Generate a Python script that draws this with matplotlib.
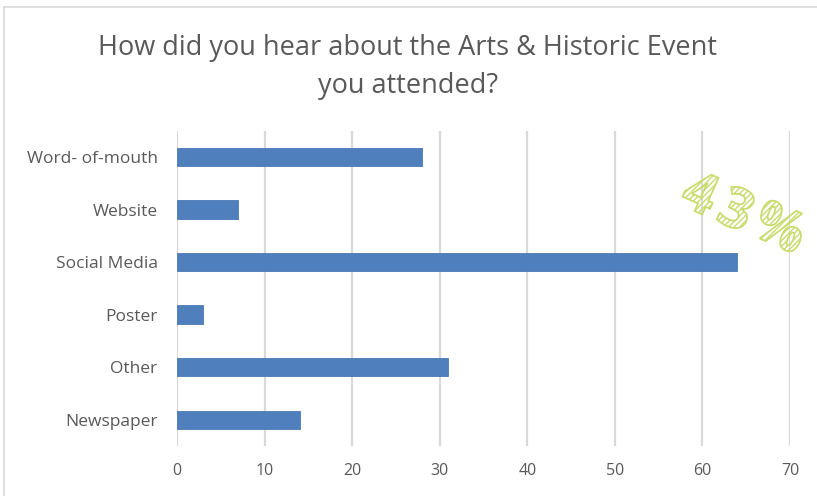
import matplotlib
matplotlib.use("Agg")
import matplotlib.pyplot as plt
from matplotlib.textpath import TextPath
from matplotlib.patches import PathPatch
from matplotlib.font_manager import FontProperties
from matplotlib.transforms import Affine2D, IdentityTransform
from matplotlib.lines import Line2D

categories = ["Newspaper", "Other", "Poster", "Social Media", "Website", "Word- of-mouth"]
values = [14, 31, 3, 64, 7, 28]
xticks = [0, 10, 20, 30, 40, 50, 60, 70]
title = "How did you hear about the Arts & Historic Event\nyou attended?"
stamp_chars = ["4", "3", "%"]

plt.rcParams["hatch.color"] = "#c9dc6e"
plt.rcParams["hatch.linewidth"] = 1.0

W, H = 817, 496
fig = plt.figure(figsize=(W / 100, H / 100), dpi=100)
fig.patch.set_facecolor("white")

ax = fig.add_axes([177 / W, 1 - 446 / H, (790 - 177) / W, (446 - 130.7) / H])
ax.barh(range(len(categories)), values, height=0.35, color="#4f7fbd", edgecolor="#4a78b5", linewidth=0.6, zorder=3)
ax.set_xlim(0, 70)
ax.set_ylim(-0.5, len(categories) - 0.5)
ax.set_xticks(xticks)
ax.set_yticks(range(len(categories)))
ax.set_yticklabels(categories)
ax.grid(axis="x", color="#d9d9d9", linewidth=1.6, zorder=0)
for s in ax.spines.values():
    s.set_visible(False)
ax.tick_params(axis="both", length=0, colors="#595959")
ax.tick_params(axis="x", pad=12, labelsize=11.5)
ax.tick_params(axis="y", pad=14, labelsize=12.5)
for lab in ax.get_xticklabels() + ax.get_yticklabels():
    lab.set_fontfamily("Open Sans")
    lab.set_color("#595959")

fig.text(408 / W, 1 - 67 / H, title, ha="center", va="center", fontsize=19.5,
         color="#595959", family="Open Sans", linespacing=1.45)

# frame lines (top and left)
fig.add_artist(Line2D([4 / W, 1], [1 - 7 / H, 1 - 7 / H], color="#d9d9d9", linewidth=1.2))
fig.add_artist(Line2D([4 / W, 4 / W], [0, 1 - 7 / H], color="#d9d9d9", linewidth=1.2))

# decorative hatched "43%"
fp = FontProperties(family="Open Sans", weight="bold")
centers = [(701, 192), (737, 208), (781, 226)]
for ch, (cx, cy) in zip(stamp_chars, centers):
    tp = TextPath((0, 0), ch, size=56, prop=fp)
    bb = tp.get_extents()
    tr = (Affine2D().translate(-(bb.x0 + bb.x1) / 2, -(bb.y0 + bb.y1) / 2)
          .rotate_deg(-24).translate(cx, H - cy))
    path = tr.transform_path(tp)
    patch = PathPatch(path, transform=IdentityTransform(), facecolor="none",
                      edgecolor="#c9dc6e", linewidth=1.3, hatch="//////", zorder=5)
    fig.add_artist(patch)

fig.savefig("out.png", dpi=100)
